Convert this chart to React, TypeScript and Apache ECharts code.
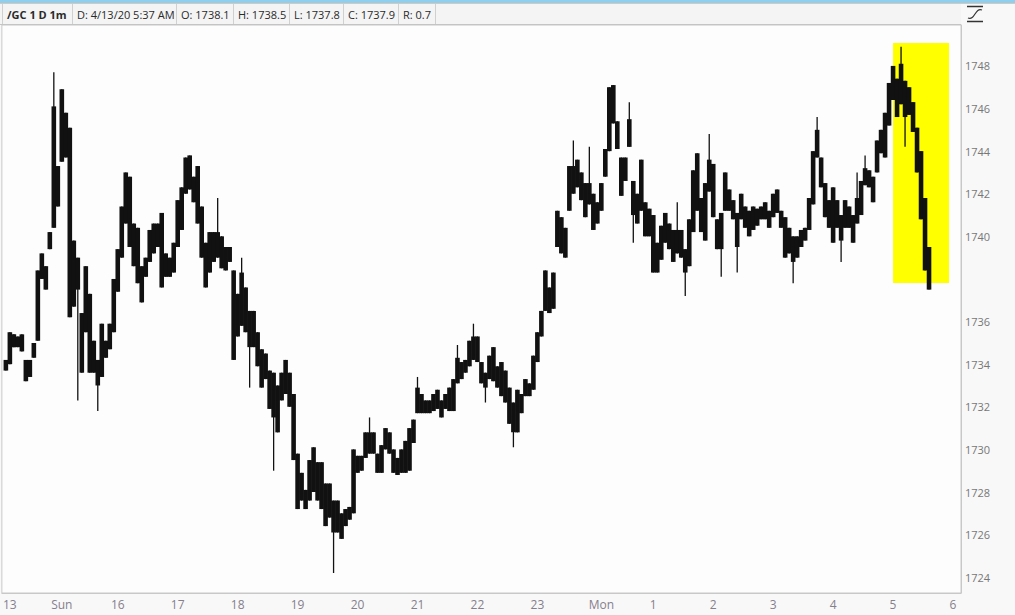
import React, { useEffect, useRef } from "react";
import * as echarts from "echarts";

// 4-minute columns of the /GC 1m chart (column 1 = first bar on the left): full high/low range
const highs = [
  1734.2, 1735.5, 1735.4, 1735.3, 1735.4, 1734.2, 1734.2, 1735.0, 1738.4, 1739.2,
  1738.6, 1740.2, 1747.7, 1743.3, 1746.9, 1745.8, 1745.1, 1739.8, 1739.0, 1736.4,
  1738.6, 1737.3, 1735.1, 1734.2, 1735.9, 1735.1, 1735.9, 1738.0, 1739.4, 1741.4,
  1743.0, 1742.8, 1740.6, 1740.4, 1738.6, 1739.0, 1740.3, 1740.6, 1740.6, 1741.1,
  1739.2, 1739.0, 1739.7, 1741.7, 1742.3, 1743.7, 1743.8, 1742.8, 1743.3, 1741.4,
  1739.7, 1740.2, 1740.2, 1741.8, 1740.0, 1739.5, 1739.5, 1738.4, 1737.3, 1739.0,
  1737.6, 1736.5, 1736.5, 1735.5, 1734.7, 1734.5, 1733.7, 1733.6, 1733.0, 1733.6,
  1734.2, 1733.6, 1732.6, 1729.8, 1728.9, 1728.1, 1729.5, 1730.1, 1729.4, 1729.4,
  1728.4, 1728.4, 1727.6, 1727.6, 1727.0, 1727.2, 1727.3, 1730.0, 1729.7, 1729.7,
  1730.8, 1731.5, 1730.8, 1729.8, 1730.2, 1731.0, 1730.8, 1730.0, 1729.6, 1730.0,
  1730.4, 1731.0, 1731.4, 1733.4, 1732.6, 1732.3, 1732.3, 1732.6, 1732.8, 1732.3,
  1732.6, 1732.9, 1733.3, 1734.9, 1734.1, 1734.2, 1735.1, 1735.9, 1735.3, 1734.1,
  1733.6, 1734.4, 1734.8, 1733.9, 1734.1, 1733.7, 1732.9, 1732.2, 1732.8, 1732.6,
  1733.3, 1733.1, 1734.4, 1735.5, 1736.5, 1738.4, 1737.6, 1738.3, 1741.2, 1740.9,
  1740.4, 1743.3, 1744.5, 1743.6, 1743.0, 1742.5, 1744.2, 1742.0, 1741.6, 1742.5,
  1744.1, 1747.0, 1747.1, 1745.4, 1743.7, 1743.7, 1746.3, 1742.6, 1742.0, 1743.6,
  1741.6, 1741.3, 1741.0, 1739.7, 1740.5, 1741.1, 1740.6, 1740.3, 1741.6, 1740.3,
  1739.4, 1740.8, 1743.1, 1743.9, 1741.8, 1742.5, 1744.8, 1743.4, 1740.8, 1741.1,
  1743.0, 1742.2, 1741.7, 1741.1, 1742.0, 1741.4, 1741.2, 1741.4, 1741.3, 1741.4,
  1741.6, 1741.2, 1742.0, 1742.2, 1741.2, 1740.9, 1740.4, 1740.0, 1740.0, 1740.3,
  1740.4, 1741.8, 1744.0, 1745.6, 1743.7, 1742.5, 1741.7, 1742.3, 1741.7, 1741.0,
  1741.7, 1741.4, 1741.0, 1743.0, 1742.6, 1743.8, 1743.1, 1742.8, 1744.5, 1745.0,
  1745.8, 1747.2, 1748.0, 1747.4, 1748.9, 1747.3, 1747.0, 1746.3, 1745.1, 1744.0,
  1741.8, 1739.5,
];

const lows = [
  1733.7, 1734.0, 1734.8, 1734.8, 1734.6, 1733.2, 1733.4, 1734.3, 1735.1, 1738.0,
  1737.5, 1739.4, 1740.4, 1741.4, 1743.5, 1743.7, 1736.2, 1736.7, 1732.3, 1733.6,
  1735.5, 1733.6, 1733.6, 1731.8, 1733.4, 1734.3, 1734.7, 1735.5, 1737.4, 1739.0,
  1740.6, 1739.5, 1738.6, 1737.8, 1736.9, 1738.1, 1738.8, 1739.2, 1739.5, 1737.6,
  1738.1, 1738.1, 1738.3, 1739.5, 1740.3, 1742.0, 1742.2, 1741.6, 1740.6, 1739.0,
  1737.6, 1738.3, 1738.8, 1739.0, 1738.5, 1738.4, 1738.8, 1734.2, 1735.3, 1735.8,
  1735.5, 1732.9, 1734.8, 1733.9, 1732.9, 1733.3, 1731.9, 1729.0, 1730.8, 1732.3,
  1732.6, 1732.0, 1729.5, 1727.2, 1727.6, 1727.2, 1727.6, 1728.0, 1727.6, 1727.2,
  1726.4, 1726.8, 1724.2, 1726.1, 1725.8, 1726.4, 1726.7, 1727.0, 1728.9, 1729.0,
  1729.6, 1729.8, 1729.8, 1728.9, 1728.9, 1730.0, 1729.8, 1728.9, 1728.8, 1728.9,
  1728.9, 1729.0, 1730.3, 1731.7, 1731.7, 1731.7, 1731.7, 1731.8, 1731.9, 1731.5,
  1731.9, 1731.8, 1731.8, 1733.1, 1733.3, 1733.6, 1733.9, 1734.2, 1734.1, 1733.1,
  1732.2, 1733.3, 1733.2, 1732.9, 1732.5, 1732.2, 1731.2, 1730.1, 1730.8, 1731.7,
  1732.5, 1732.5, 1732.8, 1734.1, 1735.3, 1736.5, 1736.4, 1736.6, 1739.5, 1739.2,
  1739.0, 1741.2, 1742.0, 1742.3, 1741.7, 1740.9, 1741.5, 1740.3, 1740.6, 1741.2,
  1742.8, 1744.0, 1745.3, 1744.1, 1741.9, 1742.6, 1744.2, 1739.7, 1740.6, 1741.2,
  1740.0, 1740.0, 1738.3, 1738.3, 1738.9, 1739.7, 1739.4, 1738.8, 1739.2, 1739.0,
  1737.2, 1738.6, 1740.2, 1741.2, 1740.2, 1739.8, 1742.1, 1740.9, 1739.4, 1738.1,
  1741.2, 1741.2, 1740.8, 1738.3, 1740.8, 1740.4, 1740.0, 1740.3, 1740.5, 1740.8,
  1740.8, 1740.4, 1740.9, 1741.1, 1740.4, 1739.0, 1739.2, 1737.8, 1739.0, 1739.5,
  1739.8, 1740.3, 1741.5, 1743.7, 1742.3, 1740.9, 1740.4, 1739.7, 1740.4, 1738.8,
  1740.4, 1740.4, 1739.7, 1740.6, 1741.0, 1742.4, 1742.3, 1741.6, 1743.0, 1743.9,
  1743.7, 1745.2, 1746.4, 1745.6, 1746.2, 1744.2, 1745.7, 1744.9, 1743.0, 1740.8,
  1738.4, 1737.5,
];

// columns whose extreme is a single thin spike: [column, dense-part low, dense-part high]
const spikeColumns = [
  [13, 1740.4, 1746.1], [19, 1737.5, 1739.0], [24, 1733.0, 1734.2], [54, 1739.0, 1740.2],
  [60, 1735.8, 1738.3], [62, 1734.8, 1736.5], [68, 1731.5, 1733.6], [83, 1726.1, 1727.6],
  [92, 1729.8, 1730.8], [104, 1731.7, 1732.9], [114, 1733.1, 1734.3], [118, 1734.2, 1735.3],
  [121, 1732.9, 1733.6], [128, 1730.8, 1732.2], [143, 1742.0, 1743.3], [147, 1741.5, 1742.5],
  [157, 1744.2, 1745.5], [158, 1741.0, 1742.6], [169, 1739.2, 1740.3], [171, 1738.3, 1739.4],
  [177, 1742.1, 1743.6], [180, 1739.4, 1741.1], [184, 1739.5, 1741.1], [198, 1738.8, 1740.0],
  [204, 1743.7, 1745.0], [210, 1739.8, 1741.0], [214, 1740.6, 1741.8], [216, 1742.4, 1743.2],
  [225, 1746.2, 1748.1], [226, 1745.6, 1747.3],
];

const columnCount = 241;
const xTickLabels = ["13", "Sun", "16", "17", "18", "19", "20", "21", "22", "23", "Mon", "1", "2", "3", "4", "5", "6"];
const xTickColumns = [2, 15, 29, 44, 59, 74, 89, 104, 119, 134, 150, 163, 178, 193, 208, 223, 238];

const lastPrice = 1737.9;
const highlightColumns = [223, 237];
const highlightPrices = [1749.08, 1737.81];

const header = [
  { text: "/GC 1 D 1m", bold: true },
  { text: "D: 4/13/20 5:37 AM" },
  { text: "O: 1738.1" },
  { text: "H: 1738.5" },
  { text: "L: 1737.8" },
  { text: "C: 1737.9" },
  { text: "R: 0.7" },
];

export default function App() {
  const ref = useRef<HTMLDivElement>(null);

  useEffect(() => {
    document.body.style.margin = "0";
    const chart = echarts.init(ref.current!, null, { renderer: "svg" });

    const tickMap = new Map<number, string>();
    xTickColumns.forEach((c, k) => tickMap.set(c, xTickLabels[k]));
    const categories: string[] = [];
    for (let i = 0; i < columnCount; i++) {
      categories.push(tickMap.has(i) ? (tickMap.get(i) as string) : "_" + i);
    }

    const spikeMap = new Map<number, number[]>();
    spikeColumns.forEach((s) => spikeMap.set(s[0], [s[1], s[2]]));

    // [column index, low, high, dense low, dense high]
    const columns = highs.map((h, k) => {
      const col = k + 1;
      const body = spikeMap.get(col) || [lows[k], h];
      return [col, lows[k], h, body[0], body[1]];
    });

    const font = "'Open Sans', 'Noto Sans', sans-serif";
    const sepX = [2, 72, 176, 233, 289, 343, 398, 435];
    const textX = [7, 77, 181, 238, 294, 348, 403];
    const graphics: any[] = [
      { type: "rect", shape: { x: 0, y: 0, width: 1015, height: 3 }, style: { fill: "#8ecff0" }, silent: true },
      { type: "rect", shape: { x: 0, y: 3, width: 961, height: 21 }, style: { fill: "#f4f4f4" }, silent: true },
      { type: "line", shape: { x1: 0, y1: 24.5, x2: 961, y2: 24.5 }, style: { stroke: "#c4c4c4", lineWidth: 1 }, silent: true },
      { type: "line", shape: { x1: 0, y1: 3.5, x2: 1015, y2: 3.5 }, style: { stroke: "#d8c8b8", lineWidth: 1 }, silent: true },
      ...sepX.map((x) => ({
        type: "line",
        shape: { x1: x + 0.5, y1: 4, x2: x + 0.5, y2: 24 },
        style: { stroke: "#d0d0d0", lineWidth: 1 },
        silent: true,
      })),
      ...header.map((h, k) => ({
        type: "text",
        x: textX[k],
        y: 14,
        style: {
          text: h.text,
          font: `${h.bold ? "bold " : ""}11px ${font}`,
          fill: "#2a2a2a",
          verticalAlign: "middle",
          align: "left",
        },
        silent: true,
      })),
      { type: "line", shape: { x1: 967, y1: 6.5, x2: 983, y2: 6.5 }, style: { stroke: "#333", lineWidth: 1.5 }, silent: true },
      { type: "line", shape: { x1: 967, y1: 21.5, x2: 983, y2: 21.5 }, style: { stroke: "#333", lineWidth: 1.5 }, silent: true },
      {
        type: "bezierCurve",
        shape: { x1: 968, y1: 18, cpx1: 975, cpy1: 21, cpx2: 975, cpy2: 7, x2: 982, y2: 10 },
        style: { stroke: "#333", lineWidth: 1.2, fill: "none" },
        silent: true,
      },
    ];

    chart.setOption({
      animation: false,
      backgroundColor: "#f8f8f8",
      textStyle: { fontFamily: font },
      grid: {
        left: 1,
        right: 54,
        top: 25,
        bottom: 22,
        show: true,
        backgroundColor: "#fdfdfd",
        borderColor: "#c8c8c8",
        borderWidth: 1,
      },
      xAxis: {
        type: "category",
        data: categories,
        boundaryGap: false,
        axisLine: { show: true, lineStyle: { color: "#c8c8c8" } },
        axisTick: { show: false },
        splitLine: { show: false },
        axisLabel: {
          color: "#857f8c",
          fontSize: 12,
          margin: 5,
          interval: (idx: number, val: string) => !String(val).startsWith("_"),
          formatter: (val: string) => (String(val).startsWith("_") ? "" : val),
        },
      },
      yAxis: {
        type: "value",
        position: "right",
        min: 1723.26,
        max: 1749.92,
        splitNumber: 13,
        minInterval: 2,
        maxInterval: 2,
        scale: true,
        axisLine: { show: true, lineStyle: { color: "#c8c8c8" } },
        axisTick: { show: false },
        splitLine: { show: false },
        axisLabel: {
          color: "#777",
          fontSize: 11,
          margin: 4,
          showMinLabel: false,
          showMaxLabel: false,
          formatter: (v: number) => (Math.abs(v - lastPrice) < 0.7 ? "" : String(Math.round(v))),
        },
      },
      series: [
        {
          type: "custom",
          data: columns,
          encode: { x: 0, y: [1, 2] },
          clip: true,
          renderItem: (params: any, api: any) => {
            const lo = api.coord([api.value(0), api.value(1)]);
            const hi = api.coord([api.value(0), api.value(2)]);
            const blo = api.coord([api.value(0), api.value(3)]);
            const bhi = api.coord([api.value(0), api.value(4)]);
            return {
              type: "group",
              children: [
                {
                  type: "line",
                  shape: { x1: lo[0], y1: lo[1], x2: hi[0], y2: hi[1] },
                  style: { stroke: "#111", lineWidth: 1.3 },
                },
                {
                  type: "rect",
                  shape: { x: blo[0] - 2.3, y: bhi[1], width: 4.6, height: Math.max(1, blo[1] - bhi[1]) },
                  style: { fill: "#111" },
                },
              ],
            };
          },
          markArea: {
            silent: true,
            itemStyle: { color: "#ffff00", opacity: 1 },
            data: [
              [
                { xAxis: categories[highlightColumns[0]], yAxis: highlightPrices[0] },
                { xAxis: categories[highlightColumns[1]], yAxis: highlightPrices[1] },
              ],
            ],
          },
          markLine: {
            silent: true,
            symbol: "none",
            lineStyle: { width: 0, opacity: 0 },
            data: [{ yAxis: lastPrice }],
            label: {
              show: true,
              position: "end",
              distance: 3,
              formatter: String(lastPrice),
              color: "#fff",
              backgroundColor: "#151515",
              borderRadius: 3,
              padding: [2, 3, 1, 3],
              fontSize: 12,
            },
          },
        },
      ],
      graphic: graphics,
    });

    return () => chart.dispose();
  }, []);

  return <div ref={ref} style={{ width: 1015, height: 615 }} />;
}
